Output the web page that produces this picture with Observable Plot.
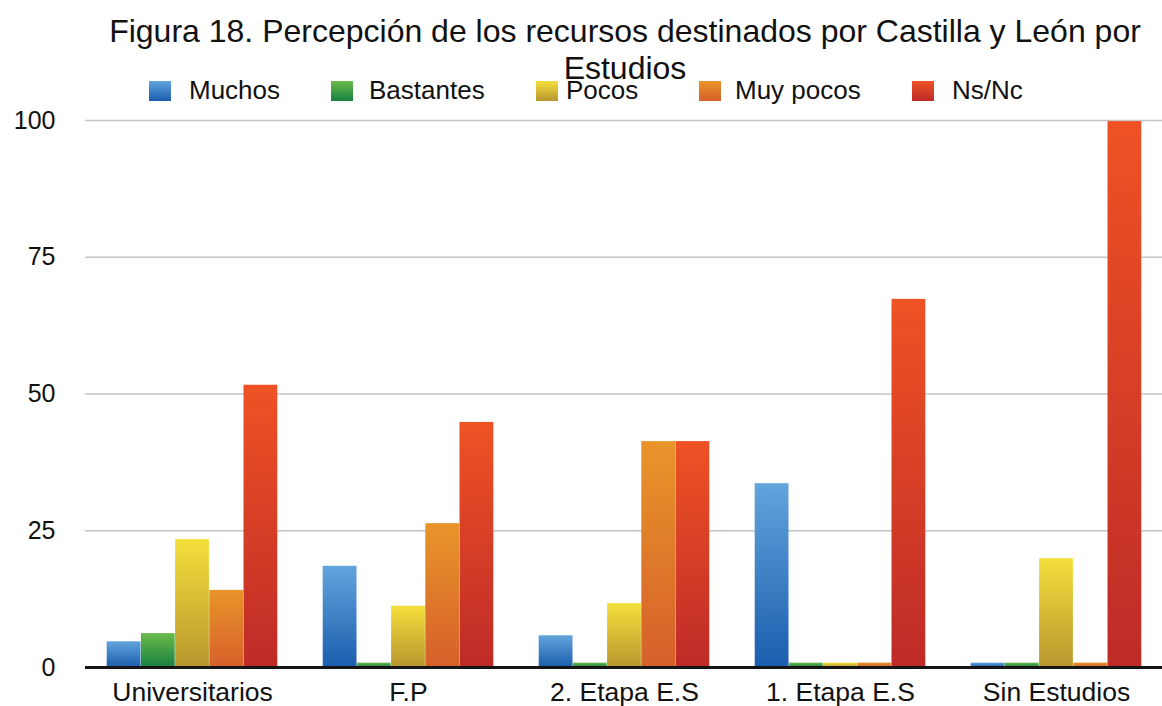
<!DOCTYPE html>
<html>
<head>
<meta charset="utf-8">
<script src="https://cdn.jsdelivr.net/npm/d3@7"></script>
<script src="https://cdn.jsdelivr.net/npm/@observablehq/plot@0.6"></script>
<style>
  html, body { margin: 0; padding: 0; background: #fff; }
  #wrap { position: relative; width: 1162px; height: 706px; overflow: hidden; font-family: "Liberation Sans", Arial, Helvetica, sans-serif; color: #111; }
  #title { position: absolute; left: 0; top: 13px; width: 1250px; text-align: center; font-size: 32px; line-height: 37px; z-index: 1; }
  #legend { position: absolute; left: 0; top: 0; width: 1162px; height: 110px; z-index: 2; }
  .sw { position: absolute; top: 81px; width: 22px; height: 20px; }
  .lab { position: absolute; top: 75px; font-size: 26px; line-height: 30px; white-space: nowrap; }
  #chart { position: absolute; left: 0; top: 100px; }
</style>
</head>
<body>
<div id="wrap">
  <div id="title">Figura 18. Percepción de los recursos destinados por Castilla y León por<br>Estudios</div>
  <div id="legend"></div>
  <div id="chart"></div>
</div>
<script>
const categories = ["Universitarios", "F.P", "2. Etapa E.S", "1. Etapa E.S", "Sin Estudios"];
const series = ["Muchos", "Bastantes", "Pocos", "Muy pocos", "Ns/Nc"];
const muchos    = [4.7, 18.5, 5.8, 33.6, 0.8];
const bastantes = [6.2, 0.8, 0.8, 0.8, 0.8];
const pocos     = [23.4, 11.2, 11.7, 0.8, 19.9];
const muyPocos  = [14.1, 26.3, 41.3, 0.8, 0.8];
const nsnc      = [51.6, 44.8, 41.3, 67.3, 99.8];
const yTicks = [0, 25, 50, 75, 100];

const values = [muchos, bastantes, pocos, muyPocos, nsnc];
const gradients = [
  ["#62a4dc", "#1a5eae"],
  ["#6cbb4c", "#16803e"],
  ["#f4df3c", "#b8962e"],
  ["#e8952a", "#d6602a"],
  ["#ee5224", "#be2b28"]
];

const data = [];
series.forEach((s, i) => categories.forEach((c, j) => data.push({cat: c, series: s, si: i, value: values[i][j]})));

// Legend
const legend = document.getElementById("legend");
const swLeft = [149, 331, 536, 699, 912];
const labLeft = [189, 369, 566, 735, 952];
series.forEach((s, i) => {
  const sw = document.createElement("div");
  sw.className = "sw";
  sw.style.left = swLeft[i] + "px";
  sw.style.background = `linear-gradient(${gradients[i][0]}, ${gradients[i][1]})`;
  legend.appendChild(sw);
  const lab = document.createElement("div");
  lab.className = "lab";
  lab.style.left = labLeft[i] + "px";
  lab.textContent = s;
  legend.appendChild(lab);
});

const bandW = 171;
const pitch = bandW / series.length;
const gap = 0.7;

const barMarks = series.map((s, i) => Plot.barY(data.filter(d => d.si === i), {
  x: "cat",
  y: "value",
  fill: `url(#grad-${i})`,
  insetLeft: i * pitch + gap,
  insetRight: (series.length - 1 - i) * pitch + gap
}));

const plot = Plot.plot({
  width: 1162,
  height: 606,
  marginTop: 20,
  marginBottom: 39,
  marginLeft: 85,
  marginRight: 0,
  style: {fontFamily: "'Liberation Sans', Arial, Helvetica, sans-serif", color: "#111", background: "#fff", overflow: "visible"},
  x: {domain: categories, paddingInner: 0.206, paddingOuter: 0.09, label: null},
  y: {domain: [0, 100], label: null},
  marks: [
    Plot.ruleY(yTicks.filter(t => t > 0), {stroke: "#c4c4c4", strokeWidth: 1.5}),
    ...barMarks,
    Plot.ruleY([0], {stroke: "#151515", strokeWidth: 3}),
    Plot.axisX({tickSize: 0, tickPadding: 15, fontSize: 26.5, fill: "#111", label: null}),
    Plot.axisY({ticks: yTicks, tickSize: 0, tickPadding: 30, fontSize: 25, fill: "#111", label: null})
  ]
});

const svg = d3.select(plot);
const defs = svg.insert("defs", ":first-child");
gradients.forEach((g, i) => {
  const lg = defs.append("linearGradient").attr("id", `grad-${i}`).attr("x1", 0).attr("y1", 0).attr("x2", 0).attr("y2", 1);
  lg.append("stop").attr("offset", "0%").attr("stop-color", g[0]);
  lg.append("stop").attr("offset", "100%").attr("stop-color", g[1]);
});

document.getElementById("chart").appendChild(plot);
</script>
</body>
</html>
